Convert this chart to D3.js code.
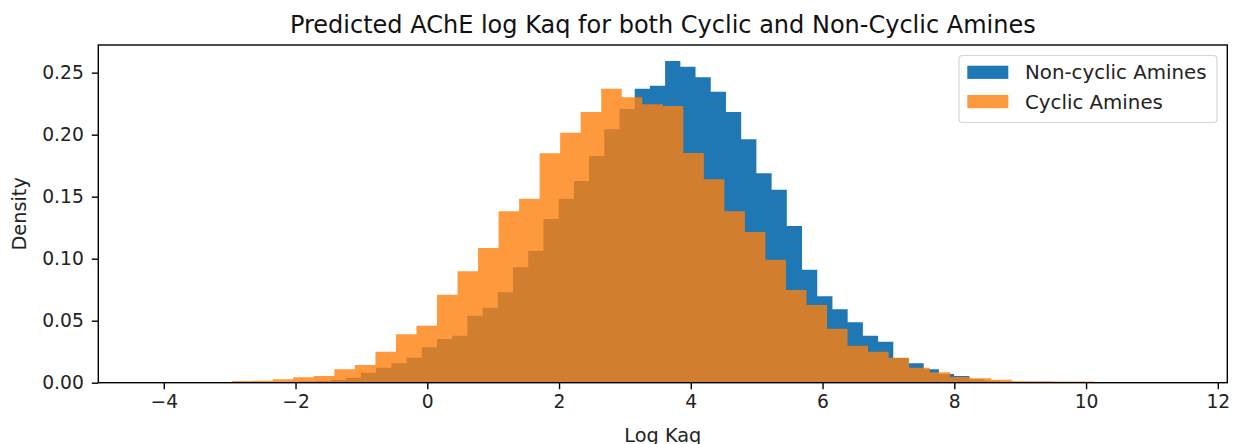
<!DOCTYPE html>
<html>
<head>
<meta charset="utf-8">
<script src="https://cdn.jsdelivr.net/npm/d3@7"></script>
<style>
  html, body { margin: 0; padding: 0; background: #fff; }
  svg { display: block; font-family: "DejaVu Sans", sans-serif; }
</style>
</head>
<body>
<svg id="chart" width="1233" height="444"></svg>
<script>
// Histogram densities, 50 bins per group
const seriesNames = ["Non-cyclic Amines", "Cyclic Amines"];

const nonCyclicStart = -2.624;
const nonCyclicWidth = 0.2309;
const nonCyclicDensity = [
  0.0003, 0.0005, 0.0007, 0.0010, 0.0014, 0.0022, 0.0040, 0.0081, 0.0121, 0.0156,
  0.0202, 0.0285, 0.0352, 0.0379, 0.0540, 0.0605, 0.0729, 0.0931, 0.1062, 0.1320,
  0.1484, 0.1627, 0.1828, 0.2044, 0.2207, 0.2371, 0.2395, 0.2594, 0.2548, 0.2463,
  0.2347, 0.2183, 0.1963, 0.1689, 0.1556, 0.1264, 0.0911, 0.0697, 0.0592, 0.0487,
  0.0379, 0.0331, 0.0200, 0.0156, 0.0108, 0.0070, 0.0054, 0.0028, 0.0015, 0.0008
];

const cyclicStart = -4.215;
const cyclicWidth = 0.3116;
const cyclicDensity = [
  0.0002, 0.0000, 0.0000, 0.0000, 0.0014, 0.0016, 0.0027, 0.0043, 0.0054, 0.0108,
  0.0143, 0.0250, 0.0390, 0.0460, 0.0710, 0.0898, 0.1086, 0.1382, 0.1484, 0.1850,
  0.2016, 0.2183, 0.2371, 0.2302, 0.2245, 0.2231, 0.1852, 0.1640, 0.1382, 0.1215,
  0.0992, 0.0748, 0.0627, 0.0435, 0.0298, 0.0250, 0.0202, 0.0121, 0.0084, 0.0045,
  0.0035, 0.0023, 0.0012, 0.0011, 0.0010, 0.0009, 0.0000, 0.0000, 0.0000, 0.0002
];

const xTicks = [-4, -2, 0, 2, 4, 6, 8, 10, 12];
const yTicks = [0, 0.05, 0.10, 0.15, 0.20, 0.25];

const titleText = "Predicted AChE log Kaq for both Cyclic and Non-Cyclic Amines";
const xLabel = "Log Kaq";
const yLabel = "Density";

// ---- layout ----
const plot = { left: 98.3, right: 1227.3, top: 45, bottom: 382.7 };
const tickFont = 18.7;
const labelFont = 19.3;
const legendFont = 19.8;
const titleFont = 24;
const blue = "#1f77b4";
const orange = "#ff7f0e";

const svg = d3.select("#chart");

const x = d3.scaleLinear().domain([-4.994, 12.144]).range([plot.left, plot.right]);
const y = d3.scaleLinear().domain([0, 0.2723]).range([plot.bottom, plot.top]);

function bins(start, width, dens) {
  return dens.map((d, i) => ({ x0: start + i * width, x1: start + (i + 1) * width, v: d }));
}

// one outline per histogram so neighbouring bars share edges without seams
function stepPath(data) {
  const p = d3.path();
  p.moveTo(x(data[0].x0), y(0));
  data.forEach(b => {
    p.lineTo(x(b.x0), y(b.v));
    p.lineTo(x(b.x1), y(b.v));
  });
  p.lineTo(x(data[data.length - 1].x1), y(0));
  p.closePath();
  return p.toString();
}

svg.append("clipPath").attr("id", "plotclip")
  .append("rect")
  .attr("x", plot.left).attr("y", plot.top)
  .attr("width", plot.right - plot.left).attr("height", plot.bottom - plot.top);

const g = svg.append("g").attr("clip-path", "url(#plotclip)");

function drawHist(data, color, opacity) {
  g.append("path")
    .datum(data)
    .attr("d", stepPath)
    .attr("fill", color)
    .attr("fill-opacity", opacity);
}

drawHist(bins(nonCyclicStart, nonCyclicWidth, nonCyclicDensity), blue, 1);
drawHist(bins(cyclicStart, cyclicWidth, cyclicDensity), orange, 0.8);

// ---- axes ----
const xAxis = d3.axisBottom(x)
  .tickValues(xTicks)
  .tickSize(6.5)
  .tickPadding(5.5)
  .tickFormat(d => d < 0 ? "\u2212" + Math.abs(d) : String(d));

const yAxis = d3.axisLeft(y)
  .tickValues(yTicks)
  .tickSize(6.5)
  .tickPadding(8)
  .tickFormat(d3.format(".2f"));

const gx = svg.append("g")
  .attr("transform", `translate(0,${plot.bottom})`)
  .call(xAxis);
const gy = svg.append("g")
  .attr("transform", `translate(${plot.left},0)`)
  .call(yAxis);

[gx, gy].forEach(a => {
  a.select(".domain").remove();
  a.selectAll(".tick line").attr("stroke", "#000").attr("stroke-width", 1.4);
  a.selectAll(".tick text")
    .attr("fill", "#222")
    .style("font-size", tickFont + "px")
    .style("font-family", "'DejaVu Sans', sans-serif");
});
gx.selectAll(".tick text").attr("dy", "0.71em");

// spines
svg.append("rect")
  .attr("x", plot.left).attr("y", plot.top)
  .attr("width", plot.right - plot.left).attr("height", plot.bottom - plot.top)
  .attr("fill", "none").attr("stroke", "#000").attr("stroke-width", 1.4);

// ---- titles ----
svg.append("text")
  .attr("x", (plot.left + plot.right) / 2).attr("y", 33.3)
  .attr("text-anchor", "middle")
  .attr("fill", "#111")
  .style("font-size", titleFont + "px")
  .text(titleText);

svg.append("text")
  .attr("x", (plot.left + plot.right) / 2).attr("y", 441.5)
  .attr("text-anchor", "middle")
  .attr("fill", "#222")
  .style("font-size", labelFont + "px")
  .text(xLabel);

svg.append("text")
  .attr("transform", `translate(26,${(plot.top + plot.bottom) / 2}) rotate(-90)`)
  .attr("text-anchor", "middle")
  .attr("fill", "#222")
  .style("font-size", labelFont + "px")
  .text(yLabel);

// ---- legend ----
const legend = svg.append("g");
legend.append("rect")
  .attr("x", 959).attr("y", 55.5)
  .attr("width", 258).attr("height", 67)
  .attr("rx", 3.5)
  .attr("fill", "#fff").attr("fill-opacity", 0.8)
  .attr("stroke", "#d6d6d6").attr("stroke-width", 1.2);

const legendItems = [
  { name: seriesNames[0], color: blue, opacity: 1 },
  { name: seriesNames[1], color: orange, opacity: 0.8 }
];
legendItems.forEach((it, i) => {
  const cy = 72.3 + i * 29.3;
  legend.append("rect")
    .attr("x", 967.3).attr("y", cy - 6.6)
    .attr("width", 41).attr("height", 13.2)
    .attr("fill", it.color).attr("fill-opacity", it.opacity);
  legend.append("text")
    .attr("x", 1025).attr("y", cy)
    .attr("dy", "0.35em")
    .attr("fill", "#222")
    .style("font-size", legendFont + "px")
    .text(it.name);
});
</script>
</body>
</html>
